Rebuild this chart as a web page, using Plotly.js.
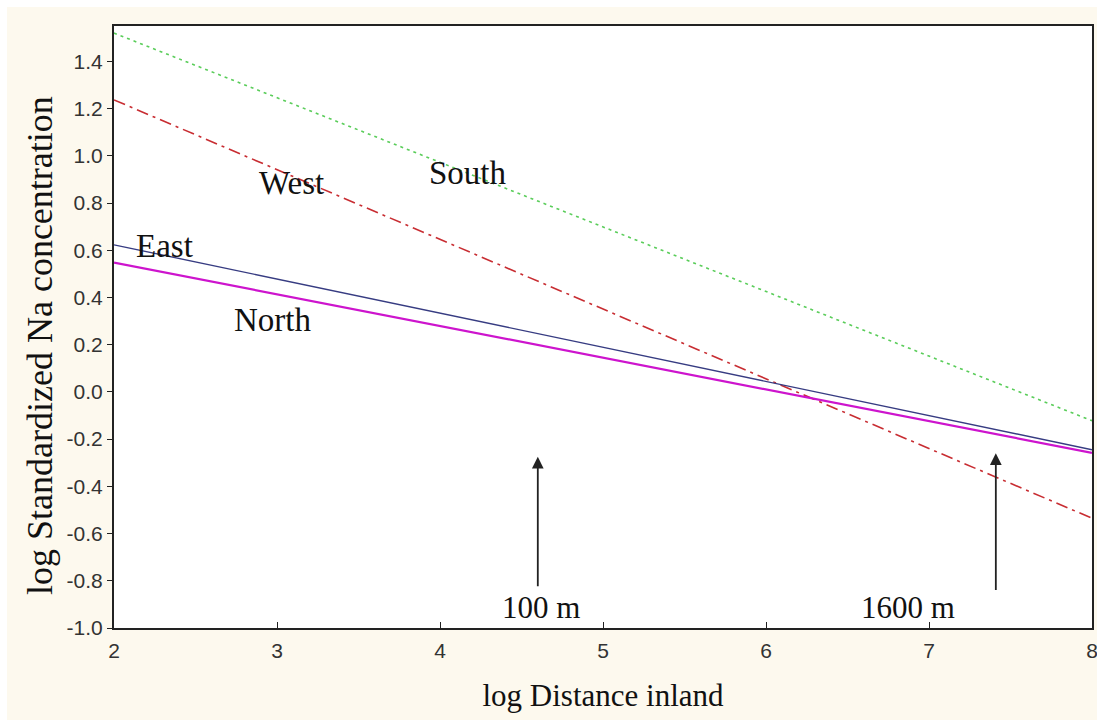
<!DOCTYPE html>
<html>
<head>
<meta charset="utf-8">
<script src="https://cdn.plot.ly/plotly-3.0.1.min.js"></script>
<style>
  html, body { margin: 0; padding: 0; background: #ffffff; }
  #chart { position: absolute; left: 7px; top: 7px; width: 1090px; height: 713px; }
</style>
</head>
<body>
<div id="chart"></div>
<script>
// Fitted regression lines: log Na concentration vs log distance inland
const xEnds = [2, 8];
const southY = [1.52, -0.122];
const westY = [1.237, -0.535];
const eastY = [0.623, -0.245];
const northY = [0.548, -0.258];

// Reference distances (ln of metres) marked with arrows
const markerX = [4.6, 7.41];
const markerLabels = ['100 m', '1600 m'];
const markerLabelX = [4.62, 6.87];
const arrowTailY = [-0.83, -0.845];
const arrowHeadY = [-0.275, -0.26];

// Direction labels placed beside their lines
const dirNames = ['South', 'West', 'East', 'North'];
const dirX = [4.17, 3.09, 2.31, 2.975];
const dirY = [0.928, 0.886, 0.619, 0.305];

const serif = '"Liberation Serif", "Times New Roman", serif';
const sans = '"Liberation Sans", Arial, sans-serif';

const traces = [
  { x: xEnds, y: southY, mode: 'lines', name: 'South',
    line: { color: 'rgb(90,205,90)', width: 1.6, dash: '3px,4px' } },
  { x: xEnds, y: westY, mode: 'lines', name: 'West',
    line: { color: 'rgb(200,45,50)', width: 1.6, dash: '12px,5px,3px,5px' } },
  { x: xEnds, y: eastY, mode: 'lines', name: 'East',
    line: { color: 'rgb(55,60,130)', width: 1.4 } },
  { x: xEnds, y: northY, mode: 'lines', name: 'North',
    line: { color: 'rgb(205,20,205)', width: 2.2 } }
];

const annotations = [];
dirNames.forEach((t, i) => {
  annotations.push({ x: dirX[i], y: dirY[i], xref: 'x', yref: 'y', text: t,
    showarrow: false, font: { family: serif, size: 33, color: '#111' } });
});
markerX.forEach((mx, i) => {
  annotations.push({ x: mx, y: arrowHeadY[i], ax: mx, ay: arrowTailY[i],
    xref: 'x', yref: 'y', axref: 'x', ayref: 'y', text: '',
    showarrow: true, arrowhead: 2, arrowsize: 1.3, arrowwidth: 1.8, arrowcolor: '#222' });
  annotations.push({ x: markerLabelX[i], y: -0.915, xref: 'x', yref: 'y',
    text: markerLabels[i], showarrow: false,
    font: { family: serif, size: 31, color: '#111' } });
});

// Vertical axis title, set slightly below the centre of the plot area
annotations.push({ x: 0, y: 0.5, xref: 'paper', yref: 'paper', xanchor: 'center', yanchor: 'middle',
  xshift: -74, yshift: -19, textangle: -90, showarrow: false,
  text: 'log Standardized Na concentration',
  font: { family: serif, size: 36, color: '#111' } });

const layout = {
  width: 1090, height: 713,
  margin: { l: 107, r: 5, t: 19, b: 92 },
  paper_bgcolor: 'rgb(253,249,238)',
  plot_bgcolor: '#ffffff',
  showlegend: false,
  xaxis: {
    range: [2, 8], tickvals: [2, 3, 4, 5, 6, 7, 8],
    ticktext: ['2', '3', '4', '5', '6', '7', '8'],
    showgrid: false, zeroline: false,
    showline: true, linecolor: '#222', linewidth: 2, mirror: true,
    ticks: 'inside', ticklen: 6, tickcolor: '#222',
    tickfont: { family: sans, size: 21, color: '#333' },
    ticklabelstandoff: 3, ticklabeloverflow: 'allow',
    title: { text: 'log Distance inland', font: { family: serif, size: 31, color: '#111' }, standoff: 23 }
  },
  yaxis: {
    range: [-1, 1.55], tickvals: [-1, -0.8, -0.6, -0.4, -0.2, 0, 0.2, 0.4, 0.6, 0.8, 1.0, 1.2, 1.4],
    ticktext: ['-1.0', '-0.8', '-0.6', '-0.4', '-0.2', '0.0', '0.2', '0.4', '0.6', '0.8', '1.0', '1.2', '1.4'],
    showgrid: false, zeroline: false,
    showline: true, linecolor: '#222', linewidth: 2, mirror: true,
    ticks: 'outside', ticklen: 5, tickcolor: '#222',
    tickfont: { family: sans, size: 21, color: '#333' }
  },
  annotations: annotations
};

Plotly.newPlot('chart', traces, layout, { displayModeBar: false, staticPlot: true });
</script>
</body>
</html>
